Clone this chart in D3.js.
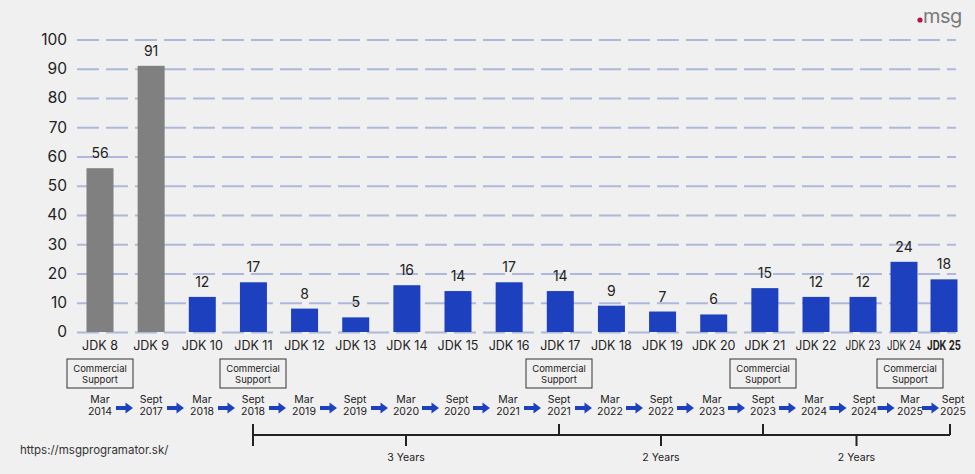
<!DOCTYPE html>
<html><head><meta charset="utf-8">
<script src="https://cdn.jsdelivr.net/npm/d3@7"></script>
<style>
html,body{margin:0;padding:0;background:#f0f0f0;}
svg{display:block;font-family:Inter,"Noto Sans",sans-serif;}
</style></head>
<body><svg id="c" width="975" height="474"></svg>
<script>
const categories = ["JDK 8","JDK 9","JDK 10","JDK 11","JDK 12","JDK 13","JDK 14","JDK 15","JDK 16","JDK 17","JDK 18","JDK 19","JDK 20","JDK 21","JDK 22","JDK 23","JDK 24","JDK 25"];
const values = [56,91,12,17,8,5,16,14,17,14,9,7,6,15,12,12,24,18];
const legacyReleases = ["JDK 8","JDK 9"];
const releaseDates = [["Mar","2014"],["Sept","2017"],["Mar","2018"],["Sept","2018"],["Mar","2019"],["Sept","2019"],["Mar","2020"],["Sept","2020"],["Mar","2021"],["Sept","2021"],["Mar","2022"],["Sept","2022"],["Mar","2023"],["Sept","2023"],["Mar","2024"],["Sept","2024"],["Mar","2025"],["Sept","2025"]];
const commercialSupport = ["JDK 8","JDK 11","JDK 17","JDK 21","JDK 24"];
const yTicks = [0,10,20,30,40,50,60,70,80,90,100];
const spans = [
  {from:"JDK 11", to:"JDK 17", label:"3 Years"},
  {from:"JDK 17", to:"JDK 21", label:"2 Years"},
  {from:"JDK 21", to:"JDK 25", label:"2 Years"}
];

const svg = d3.select("#c");
const idx = d3.range(categories.length);
const x = d3.scaleLinear().domain([0,14,15,16,17]).range([100,816,863,904,944]);
const xt = d3.scaleLinear().domain([0,14,15,16,17]).range([100,814,864,910,953]);
const y = d3.scaleLinear().domain([0,100]).range([332,39.5]);
const blue = "#1d41be", gray = "#808080", txt = "#222";

// grid + y axis
const yAxis = d3.axisLeft(y).tickValues(yTicks).tickSize(-(956-77)).tickPadding(10);
const gy = svg.append("g").attr("transform","translate(77,0)").call(yAxis);
gy.select(".domain").remove();
gy.selectAll(".tick line").attr("stroke","#aeb8da").attr("stroke-width",2).attr("stroke-dasharray","22,7");
gy.selectAll(".tick text").attr("fill",txt).attr("font-size",15.5).attr("font-family","Inter,sans-serif");

// bars
svg.append("g").selectAll("rect").data(idx).join("rect")
  .attr("x",i=>x(i)-13.5).attr("width",27)
  .attr("y",i=>y(values[i])).attr("height",i=>y(0)-y(values[i]))
  .attr("fill",i=>legacyReleases.includes(categories[i])?gray:blue);

// value labels
svg.append("g").selectAll("text").data(idx).join("text")
  .attr("x",i=>x(i)).attr("y",i=>y(values[i])-10)
  .attr("text-anchor","middle").attr("font-size",14).attr("fill",txt)
  .text(i=>values[i]);

// category labels
const cl = svg.append("g").selectAll("text").data(idx).join("text")
  .attr("x",i=>x(i)).attr("y",350)
  .attr("text-anchor","middle").attr("font-size",12.5).attr("fill",txt)
  .attr("font-weight",i=>i===categories.length-1?"bold":"normal")
  .text(i=>categories[i]);
cl.each(function(i){
  const prev = i>0 ? x(i)-x(i-1) : 60;
  const next = i<categories.length-1 ? x(i+1)-x(i) : 60;
  const limit = Math.min(prev,next) - 6;
  const w = this.getComputedTextLength();
  if (w > limit) d3.select(this).attr("textLength",limit).attr("lengthAdjust","spacingAndGlyphs");
});

// commercial support boxes
const cs = svg.append("g").selectAll("g").data(commercialSupport).join("g")
  .attr("transform",d=>`translate(${xt(categories.indexOf(d))},0)`);
cs.append("rect").attr("x",-33).attr("y",359).attr("width",66).attr("height",29)
  .attr("fill","none").attr("stroke","#333").attr("stroke-width",1);
cs.append("text").attr("y",371.5).attr("text-anchor","middle").attr("font-size",9.5).attr("fill",txt).text("Commercial");
cs.append("text").attr("y",383).attr("text-anchor","middle").attr("font-size",9.5).attr("fill",txt).text("Support");

// dates
const dg = svg.append("g").selectAll("g").data(idx).join("g")
  .attr("transform",i=>`translate(${xt(i)},0)`);
dg.append("text").attr("y",403).attr("text-anchor","middle").attr("font-size",10.5).attr("fill",txt).text(i=>releaseDates[i][0]);
dg.append("text").attr("y",415).attr("text-anchor","middle").attr("font-size",10.5).attr("fill",txt).text(i=>releaseDates[i][1]);

// arrows
const arrowPath = "M-8.5,-2 L1,-2 L1,-5.5 L8.5,0 L1,5.5 L1,2 L-8.5,2 Z";
svg.append("g").selectAll("path").data(idx.slice(0,-1)).join("path")
  .attr("transform",i=>`translate(${(xt(i)+xt(i+1))/2-1},408)`)
  .attr("d",arrowPath).attr("fill",blue);

// timeline bracket
const tl = svg.append("g").attr("stroke","#222").attr("stroke-width",2);
const x0 = xt(categories.indexOf(spans[0].from)), x1 = xt(categories.indexOf(spans[spans.length-1].to))-3;
tl.append("line").attr("x1",x0).attr("x2",x1).attr("y1",435).attr("y2",435);
tl.append("line").attr("x1",x0).attr("x2",x0).attr("y1",424).attr("y2",446);
spans.forEach((s,k)=>{
  const a = xt(categories.indexOf(s.from));
  let b = xt(categories.indexOf(s.to)); if(k===spans.length-1) b = x1;
  tl.append("line").attr("x1",b).attr("x2",b).attr("y1",424).attr("y2",435);
  const m = (a+b)/2;
  tl.append("line").attr("x1",m).attr("x2",m).attr("y1",435).attr("y2",446);
  svg.append("text").attr("x",m).attr("y",461).attr("text-anchor","middle").attr("font-size",10.5).attr("fill",txt).text(s.label);
});

// source url
svg.append("text").attr("x",20).attr("y",454).attr("font-size",11.5).attr("fill","#333").text("https://msgprogramator.sk/");

// logo
svg.append("circle").attr("cx",920).attr("cy",20).attr("r",2.6).attr("fill","#b3124d");
svg.append("text").attr("x",923).attr("y",22.5).attr("font-size",20).attr("fill","#7a7a7a").attr("letter-spacing",-0.6).text("msg");
</script></body></html>
